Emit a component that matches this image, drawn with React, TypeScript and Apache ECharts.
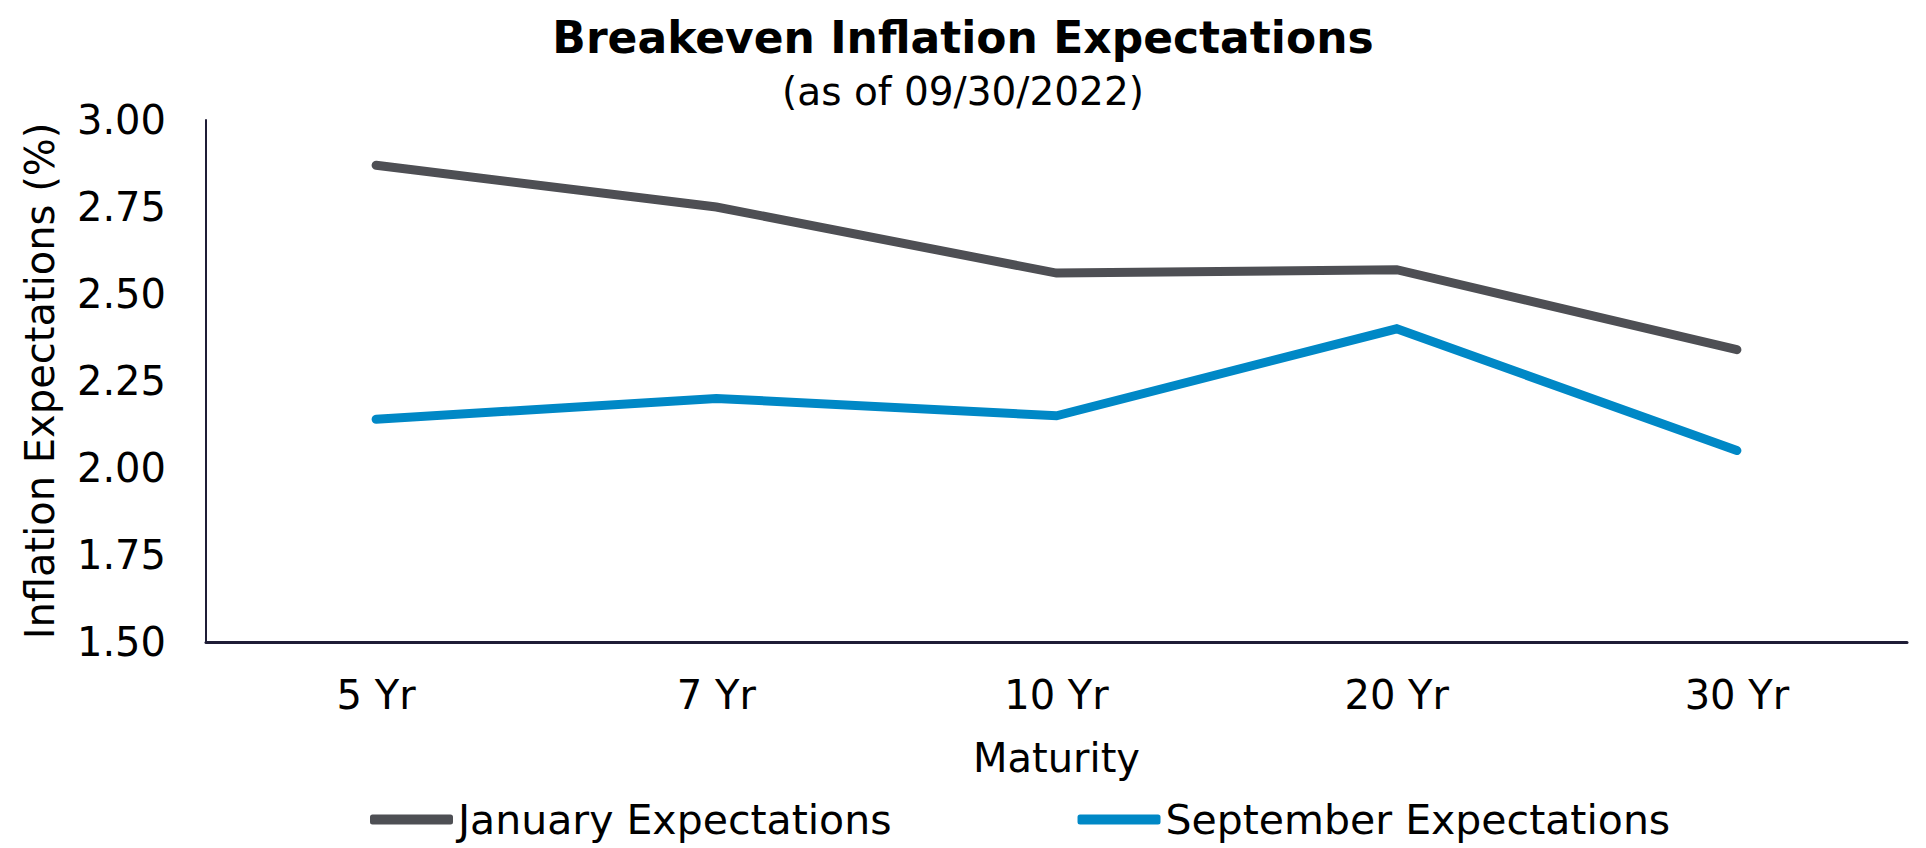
import React, { useEffect, useRef } from "react";
import * as echarts from "echarts";

const categories = ["5 Yr", "7 Yr", "10 Yr", "20 Yr", "30 Yr"];
const januaryValues = [2.87, 2.75, 2.56, 2.57, 2.34];
const septemberValues = [2.14, 2.2, 2.15, 2.4, 2.05];
const seriesNames = ["January Expectations", "September Expectations"];
const titleText = "Breakeven Inflation Expectations";
const subtitleText = "(as of 09/30/2022)";
const yAxisName = "Inflation Expectations (%)";
const xAxisName = "Maturity";

const FONT = "DejaVu Sans";
const GRAY = "#4e4f54";
const BLUE = "#0088c6";
const AXIS = "#1f1d36";
const FS = 40;

export default function App() {
  const ref = useRef<HTMLDivElement>(null);
  useEffect(() => {
    if (!ref.current) return;
    const chart = echarts.init(ref.current, null, { renderer: "svg" });
    chart.setOption({
      animation: false,
      backgroundColor: "#ffffff",
      textStyle: { fontFamily: FONT },
      title: {
        text: titleText,
        subtext: subtitleText,
        left: "center",
        top: 10,
        itemGap: 13,
        textStyle: { fontFamily: FONT, fontSize: 44, fontWeight: "bold", color: "#000" },
        subtextStyle: { fontFamily: FONT, fontSize: 39, color: "#000" },
      },
      legend: {
        left: 365,
        top: 794,
        itemWidth: 83,
        itemHeight: 10,
        itemGap: 186,
        icon: "roundRect",
        textStyle: { fontFamily: FONT, fontSize: 41, color: "#000" },
        data: seriesNames,
      },
      grid: { left: 206, right: 19, top: 120, bottom: 206, containLabel: false },
      xAxis: {
        type: "category",
        data: categories,
        boundaryGap: true,
        name: xAxisName,
        nameLocation: "middle",
        nameGap: 96,
        nameTextStyle: { fontFamily: FONT, fontSize: FS, color: "#000" },
        axisLine: { lineStyle: { color: AXIS, width: 3 } },
        axisTick: { show: false },
        axisLabel: { fontFamily: FONT, fontSize: FS, color: "#000", margin: 33 },
        splitLine: { show: false },
      },
      yAxis: {
        type: "value",
        min: 1.5,
        max: 3,
        interval: 0.25,
        name: yAxisName,
        nameLocation: "middle",
        nameGap: 146,
        nameTextStyle: { fontFamily: FONT, fontSize: FS, color: "#000" },
        axisLine: { show: true, lineStyle: { color: AXIS, width: 2 } },
        axisTick: { show: false },
        splitLine: { show: false },
        axisLabel: {
          fontFamily: FONT,
          fontSize: FS,
          color: "#000",
          margin: 40,
          formatter: (v: number) => v.toFixed(2),
        },
      },
      series: [
        {
          name: seriesNames[0],
          type: "line",
          data: januaryValues,
          symbol: "none",
          color: GRAY,
          lineStyle: { color: GRAY, width: 9, cap: "round", join: "miter" },
          itemStyle: { color: GRAY },
        },
        {
          name: seriesNames[1],
          type: "line",
          data: septemberValues,
          symbol: "none",
          color: BLUE,
          lineStyle: { color: BLUE, width: 9, cap: "round", join: "miter" },
          itemStyle: { color: BLUE },
        },
      ],
    });
    return () => chart.dispose();
  }, []);
  return (
    <div
      ref={ref}
      style={{ position: "absolute", left: 0, top: 0, width: 1926, height: 848 }}
    />
  );
}
